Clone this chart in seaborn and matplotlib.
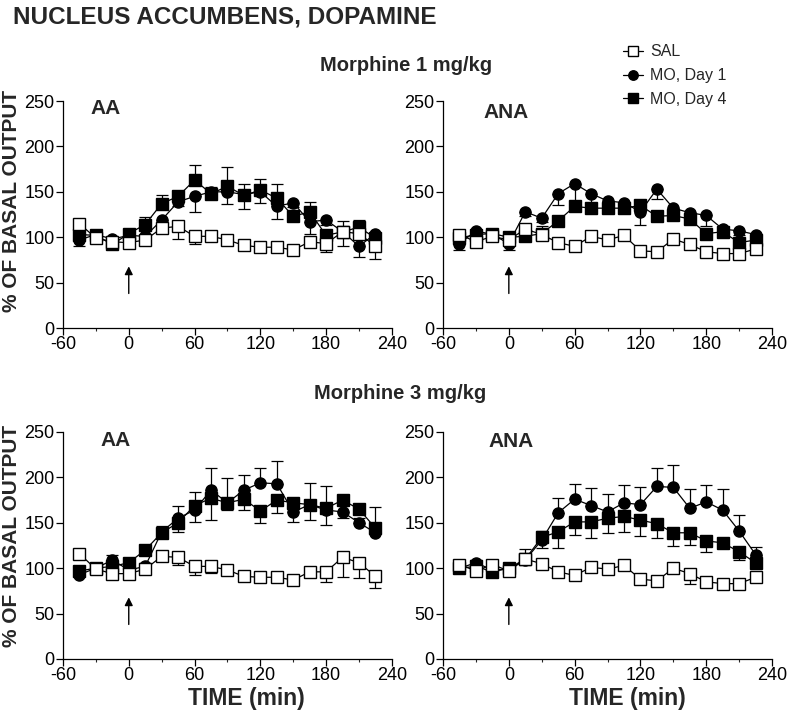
import numpy as np
import pandas as pd
import matplotlib
matplotlib.use("Agg")
import matplotlib.pyplot as plt
import seaborn as sns

OUTPUT = "out.png"

# sampling times (min), drug given at t = 0
TIME = [-45, -30, -15, 0, 15, 30, 45, 60, 75, 90, 105, 120, 135, 150, 165, 180, 195, 210, 225]

# ---- Morphine 1 mg/kg, AA ----
M1_AA_SAL = [115, 99, 95, 94, 97, 110, 112, 101, 101, 97, 91, 89, 89, 86, 95, 93, 106, 104, 90]
M1_AA_SAL_ERR = [5, 3, 3, 3, 4, 5, 14, 9, 4, 3, 3, 4, 3, 3, 3, 9, 4, 4, 14]
M1_AA_D1 = [97, 103, 98, 102, 101, 119, 139, 145, 150, 150, 147, 150, 134, 138, 117, 119, 106, 90, 104]
M1_AA_D1_ERR = [7, 4, 3, 4, 4, 6, 5, 17, 8, 13, 16, 12, 14, 5, 13, 6, 16, 12, 6]
M1_AA_D4 = [103, 102, 92, 104, 114, 137, 145, 163, 148, 156, 146, 152, 143, 123, 128, 102, 106, 111, 99]
M1_AA_D4_ERR = [5, 4, 4, 5, 8, 10, 6, 17, 7, 21, 13, 12, 16, 5, 11, 5, 12, 8, 5]

# ---- Morphine 1 mg/kg, ANA ----
M1_ANA_SAL = [103, 95, 101, 97, 109, 103, 94, 90, 101, 97, 102, 85, 84, 98, 92, 84, 82, 82, 87]
M1_ANA_SAL_ERR = [4, 3, 3, 3, 4, 3, 3, 3, 3, 3, 4, 3, 3, 4, 3, 3, 3, 3, 3]
M1_ANA_D1 = [93, 107, 103, 93, 128, 121, 148, 159, 148, 140, 138, 128, 153, 132, 127, 124, 109, 107, 103]
M1_ANA_D1_ERR = [7, 4, 3, 7, 5, 4, 13, 30, 20, 6, 6, 14, 11, 5, 5, 12, 5, 4, 4]
M1_ANA_D4 = [99, 103, 104, 100, 101, 104, 118, 134, 132, 132, 132, 135, 123, 124, 120, 104, 106, 94, 97]
M1_ANA_D4_ERR = [4, 3, 3, 3, 4, 8, 4, 4, 4, 4, 4, 4, 4, 4, 4, 4, 4, 4, 4]

# ---- Morphine 3 mg/kg, AA ----
M3_AA_SAL = [116, 99, 94, 94, 99, 113, 112, 102, 102, 98, 91, 90, 90, 87, 96, 96, 112, 106, 91]
M3_AA_SAL_ERR = [4, 3, 3, 3, 3, 4, 9, 9, 7, 3, 3, 3, 3, 3, 3, 11, 22, 17, 13]
M3_AA_D1 = [93, 100, 109, 98, 102, 140, 155, 164, 186, 172, 186, 194, 193, 162, 170, 164, 162, 150, 139]
M3_AA_D1_ERR = [4, 4, 6, 4, 4, 7, 13, 20, 24, 27, 17, 16, 25, 11, 24, 27, 10, 5, 28]
M3_AA_D4 = [97, 100, 102, 106, 120, 139, 150, 169, 177, 172, 176, 163, 175, 172, 170, 166, 175, 165, 144]
M3_AA_D4_ERR = [4, 3, 3, 4, 5, 6, 10, 18, 24, 8, 12, 13, 14, 21, 17, 18, 20, 5, 5]

# ---- Morphine 3 mg/kg, ANA ----
M3_ANA_SAL = [104, 97, 104, 97, 110, 105, 96, 92, 101, 99, 103, 88, 86, 100, 94, 85, 83, 83, 90]
M3_ANA_SAL_ERR = [3, 3, 3, 3, 4, 3, 3, 3, 3, 3, 3, 3, 3, 4, 11, 3, 3, 3, 3]
M3_ANA_D1 = [100, 106, 98, 99, 109, 131, 161, 176, 169, 162, 172, 170, 190, 189, 166, 173, 164, 141, 115]
M3_ANA_D1_ERR = [3, 3, 3, 3, 12, 10, 16, 17, 19, 20, 20, 19, 20, 25, 21, 19, 23, 18, 8]
M3_ANA_D4 = [100, 102, 96, 100, 110, 134, 140, 151, 151, 155, 157, 153, 149, 139, 139, 130, 128, 118, 106]
M3_ANA_D4_ERR = [3, 3, 3, 3, 4, 12, 18, 14, 18, 16, 17, 18, 16, 15, 14, 12, 4, 9, 4]

SERIES = ["SAL", "MO, Day 1", "MO, Day 4"]

sns.set_style("ticks")
plt.rcParams["font.family"] = ["Liberation Sans", "DejaVu Sans"]
plt.rcParams["axes.unicode_minus"] = False


def draw_panel(ax, sal, d1, d4, errs, dirs, label, label_x, label_y):
    """ one panel: three series with one-sided SEM bars """
    df = pd.DataFrame({"time": TIME, "SAL": sal, "MO, Day 1": d1, "MO, Day 4": d4})
    styles = {
        "SAL": dict(marker="s", markerfacecolor="white", zorder=5),
        "MO, Day 1": dict(marker="o", markerfacecolor="black", zorder=3),
        "MO, Day 4": dict(marker="s", markerfacecolor="black", zorder=4),
    }
    for name, err, d in zip(SERIES, errs, dirs):
        y = np.array(df[name], dtype=float)
        e = np.array(err, dtype=float)
        z = np.zeros_like(e)
        yerr = [z, e] if d == "up" else [e, z]
        ax.errorbar(df["time"], y, yerr=yerr, fmt="none", ecolor="black",
                    elinewidth=0.9, capsize=4, capthick=0.9, zorder=styles[name]["zorder"] - 0.5)
        sns.lineplot(data=df, x="time", y=name, ax=ax, color="black", linewidth=0.9,
                     markersize=8, markeredgecolor="black", markeredgewidth=1.0,
                     label=name, legend=False, **styles[name])
    ax.set_xlim(-60, 240)
    ax.set_ylim(0, 250)
    ax.set_xticks(range(-60, 241, 60))
    ax.set_xticks(range(-30, 241, 60), minor=True)
    ax.set_yticks(range(0, 251, 50))
    ax.set_xlabel("")
    ax.set_ylabel("")
    ax.tick_params(axis="both", which="major", direction="out", length=5, width=0.9,
                   labelsize=13, pad=1, colors="black")
    ax.tick_params(axis="x", which="minor", direction="out", length=2.5, width=0.8)
    for s in ["left", "bottom"]:
        ax.spines[s].set_linewidth(0.9)
        ax.spines[s].set_color("black")
    sns.despine(ax=ax)
    ax.text(label_x, label_y, label, fontsize=15, fontweight="bold", va="top", ha="left")
    # injection arrow
    ax.annotate("", xy=(0, 71), xytext=(0, 35),
                arrowprops=dict(arrowstyle="-|>", color="black", lw=1.0, mutation_scale=12))


def main():
    fig = plt.figure(figsize=(7.91, 7.17), dpi=100)
    w, h = 0.4159, 0.3166
    ax1 = fig.add_axes([0.0796, 0.5425, w, h])
    ax2 = fig.add_axes([0.5601, 0.5425, w, h])
    ax3 = fig.add_axes([0.0796, 0.0809, w, h])
    ax4 = fig.add_axes([0.5601, 0.0809, w, h])

    top_dirs = ["down", "down", "up"]
    bot_dirs = ["down", "up", "down"]

    draw_panel(ax1, M1_AA_SAL, M1_AA_D1, M1_AA_D4,
               [M1_AA_SAL_ERR, M1_AA_D1_ERR, M1_AA_D4_ERR], top_dirs, "AA", -35, 252)
    draw_panel(ax2, M1_ANA_SAL, M1_ANA_D1, M1_ANA_D4,
               [M1_ANA_SAL_ERR, M1_ANA_D1_ERR, M1_ANA_D4_ERR], top_dirs, "ANA", -23, 248)
    draw_panel(ax3, M3_AA_SAL, M3_AA_D1, M3_AA_D4,
               [M3_AA_SAL_ERR, M3_AA_D1_ERR, M3_AA_D4_ERR], bot_dirs, "AA", -26, 251)
    draw_panel(ax4, M3_ANA_SAL, M3_ANA_D1, M3_ANA_D4,
               [M3_ANA_SAL_ERR, M3_ANA_D1_ERR, M3_ANA_D4_ERR], bot_dirs, "ANA", -19, 250)

    fig.text(0.016, 0.992, "NUCLEUS ACCUMBENS, DOPAMINE", fontsize=17.5,
             fontweight="bold", ha="left", va="top")
    fig.text(0.513, 0.908, "Morphine 1 mg/kg", fontsize=14.5, fontweight="bold",
             ha="center", va="center")
    fig.text(0.506, 0.4505, "Morphine 3 mg/kg", fontsize=14.5, fontweight="bold",
             ha="center", va="center")
    for yc in [0.7197, 0.2524]:
        fig.text(0.014, yc, "% OF BASAL OUTPUT", fontsize=15, fontweight="bold",
                 rotation=90, ha="center", va="center")
    for xc in [0.312, 0.793]:
        fig.text(xc, 0.026, "TIME (min)", fontsize=16.5, fontweight="bold",
                 ha="center", va="center")

    handles, labels = ax1.get_legend_handles_labels()
    fig.legend(handles, labels, loc="upper left", bbox_to_anchor=(0.787, 0.938),
               frameon=False, fontsize=11.5, handlelength=1.3, handletextpad=0.45,
               labelspacing=0.55, borderpad=0, borderaxespad=0, markerscale=0.85)

    plt.savefig(OUTPUT, dpi=100)


if __name__ == "__main__":
    main()
